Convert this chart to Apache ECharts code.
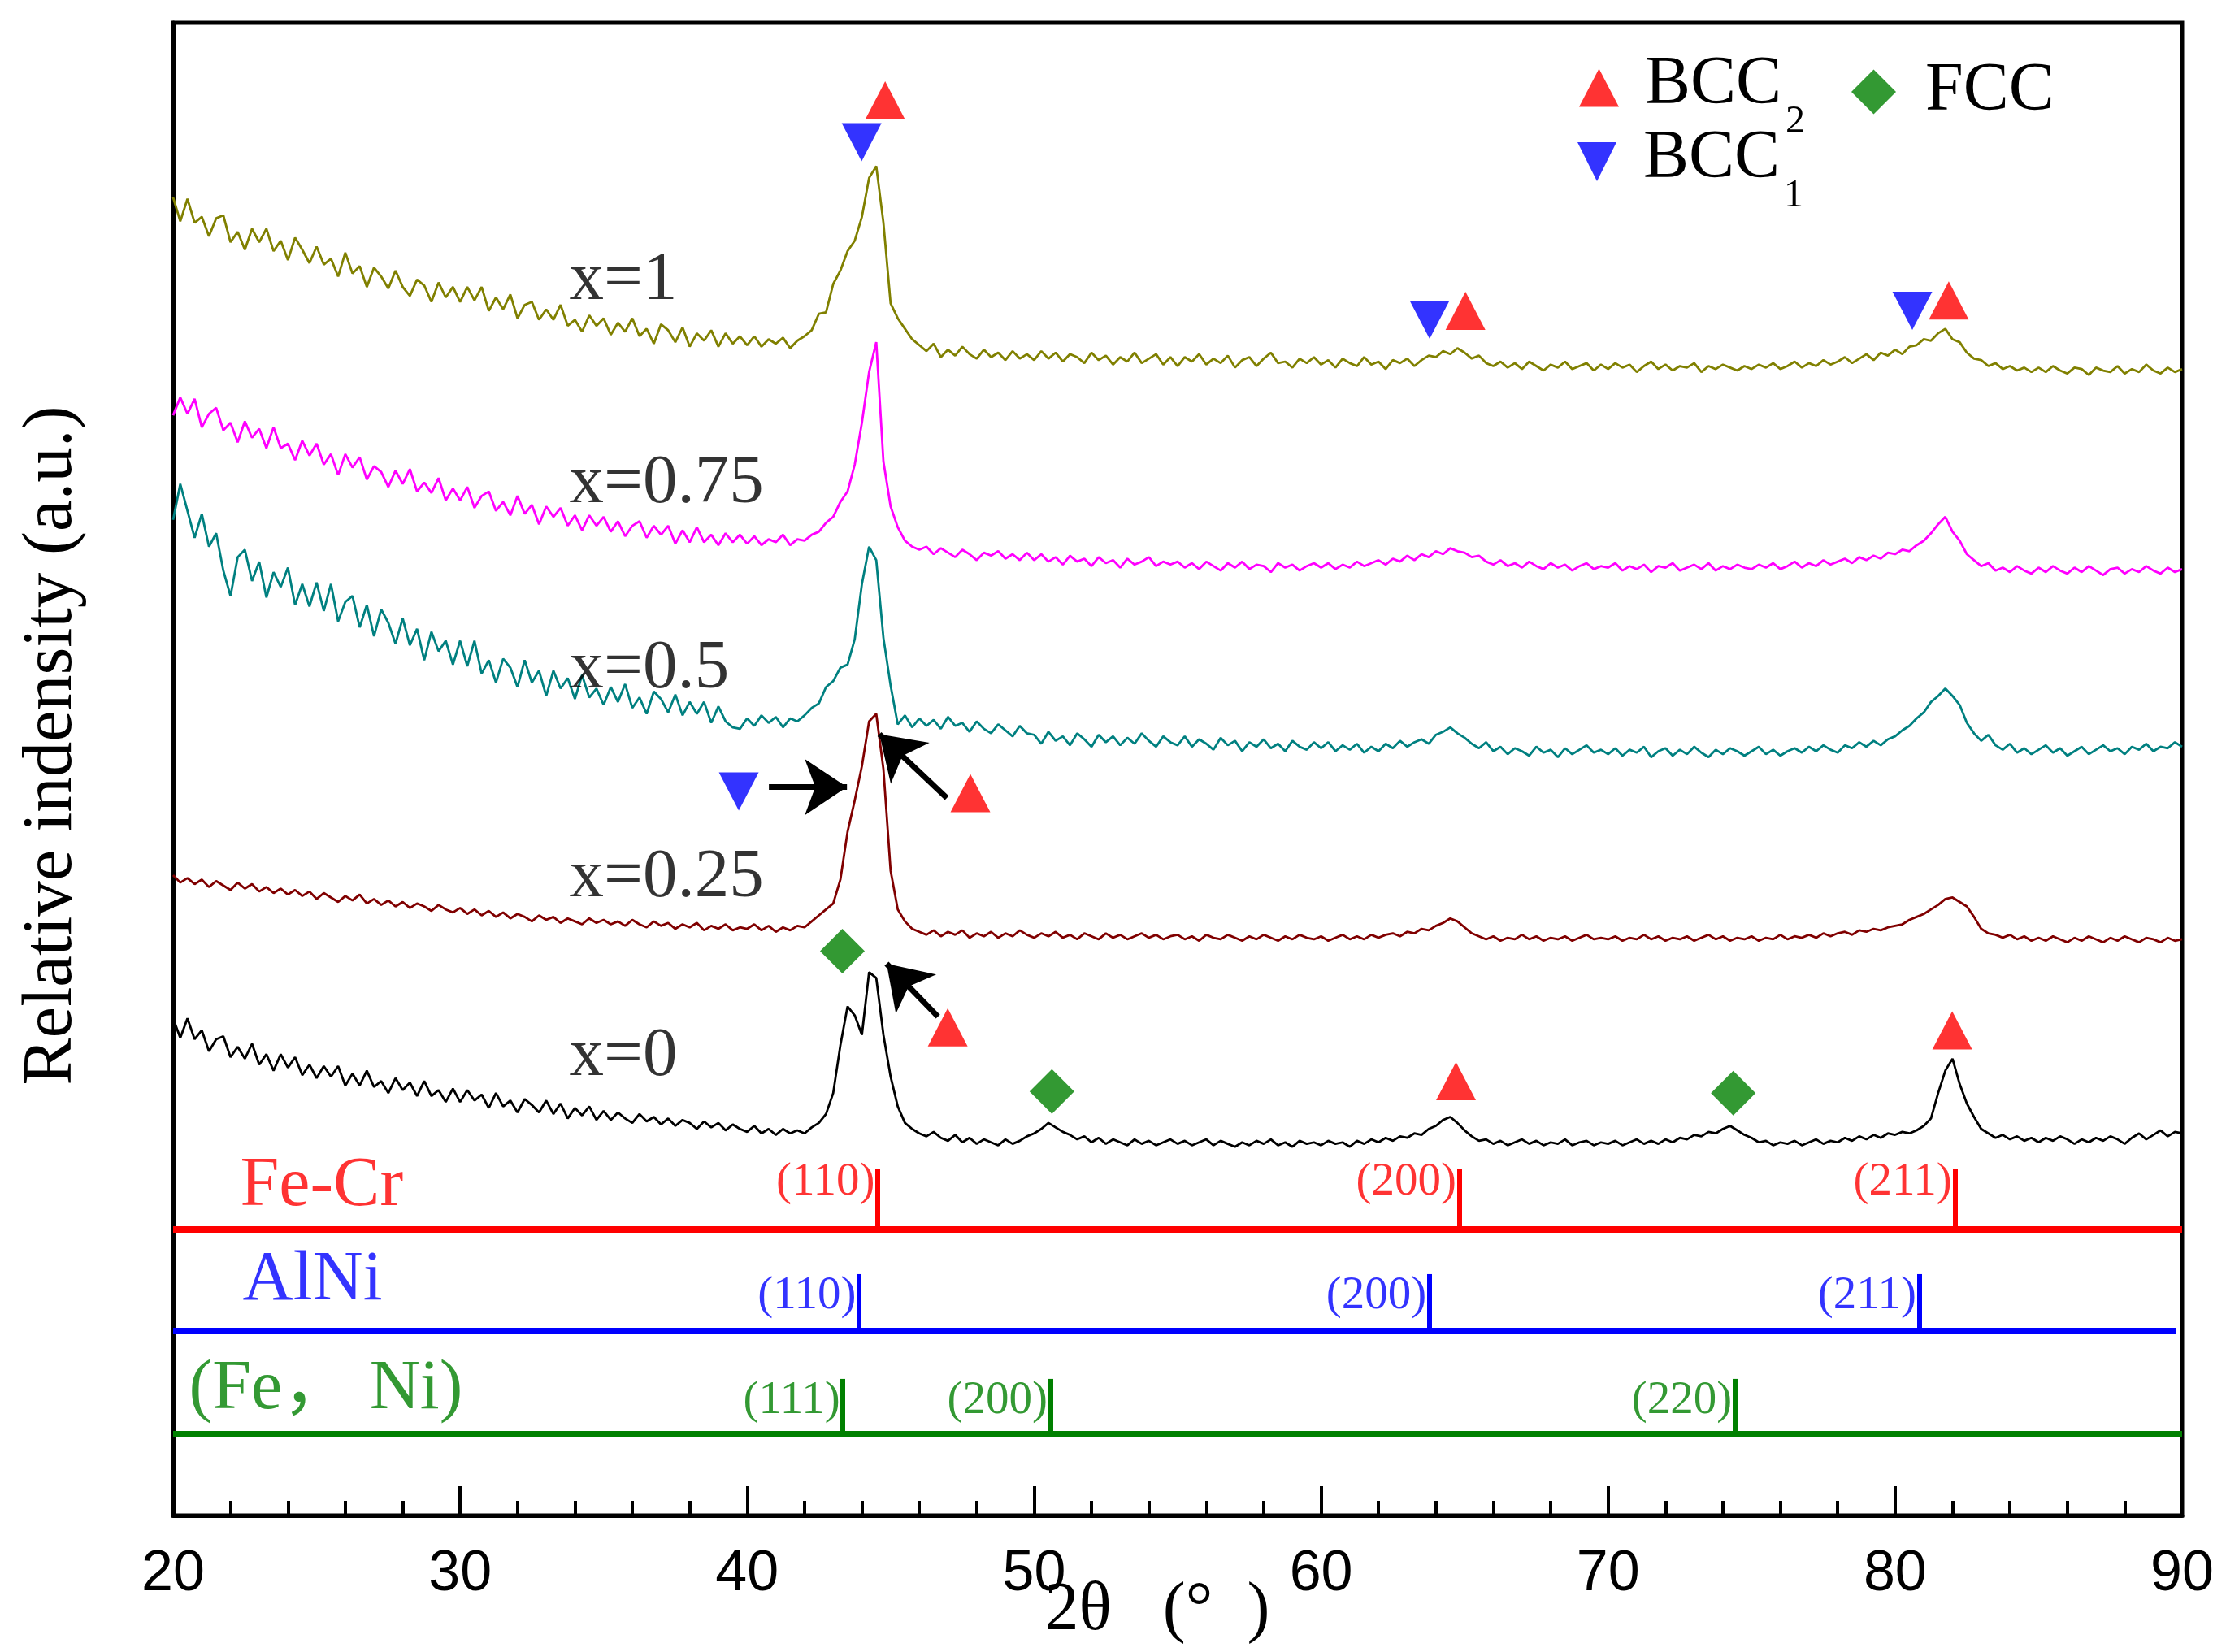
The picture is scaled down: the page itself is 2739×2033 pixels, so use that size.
<!DOCTYPE html>
<html><head><meta charset="utf-8">
<script src="https://cdn.jsdelivr.net/npm/echarts@6/dist/echarts.min.js"></script>
<style>html,body{margin:0;padding:0;background:#fff}#main{width:2739px;height:2033px}</style>
</head><body><div id="main"></div>
<script>
// ---- sampling of 2θ (deg): 20 .. 90, step 0.25 ----
const twoThetaStart = 20;
const twoThetaStep = 0.25;

// ---- curve intensities (a.u., offset-stacked) ----
const intensityX1 = [
88.3,86.7,88.2,86.6,87.0,85.7,86.9,87.1,85.3,86.0,84.8,86.2,85.3,86.2,84.7,85.4,84.1,85.6,84.8,83.9,
85.0,83.8,84.2,83.0,84.6,83.2,83.7,82.3,83.6,83.0,82.2,83.4,82.3,81.7,82.8,82.4,81.3,82.6,81.6,82.3,
81.3,82.3,81.4,82.3,80.7,81.6,80.8,81.8,80.2,81.1,81.3,80.1,80.8,80.1,81.1,79.7,80.1,79.3,80.4,79.7,
80.2,79.1,79.9,79.3,80.2,79.0,79.5,78.5,79.8,79.4,78.6,79.6,78.3,79.2,78.7,79.4,78.3,79.2,78.5,79.0,
78.4,79.0,78.3,78.8,78.5,78.9,78.2,78.7,79.0,79.4,80.5,80.6,82.5,83.4,84.7,85.4,87.0,89.6,90.4,86.6,
81.2,80.2,79.5,78.8,78.4,78.0,78.5,77.6,78.1,77.7,78.3,77.8,77.5,78.1,77.6,77.9,77.4,78.0,77.5,77.8,
77.4,78.0,77.5,77.9,77.3,77.8,77.6,77.2,77.9,77.4,77.7,77.1,77.6,77.3,77.9,77.2,77.5,77.8,77.1,77.6,
77.0,77.6,77.3,77.8,77.1,77.5,77.2,77.7,76.9,77.4,77.6,77.0,77.5,77.9,77.2,77.3,76.9,77.5,77.2,77.6,
77.1,77.4,76.9,77.5,77.2,77.0,77.6,77.1,77.3,76.8,77.4,77.2,77.5,77.0,77.4,77.7,77.6,78.0,77.8,78.2,
77.9,77.5,77.7,77.2,77.0,77.3,76.9,77.2,76.8,77.3,77.0,76.7,77.1,76.9,77.3,76.8,77.0,77.2,76.7,77.1,
76.8,77.2,76.9,77.1,76.6,77.0,77.3,76.8,77.1,76.7,77.0,76.9,77.2,76.6,77.0,76.8,77.1,76.9,76.7,77.0,
76.8,77.1,76.9,77.2,76.8,77.0,77.3,76.9,77.2,77.0,77.4,77.1,77.3,77.6,77.2,77.5,77.8,77.4,77.9,77.7,
78.1,77.8,78.3,78.4,78.8,78.7,79.2,79.5,78.8,78.6,77.9,77.5,77.4,77.0,77.2,76.8,77.0,76.7,76.9,76.6,
76.9,76.6,77.0,76.7,76.5,76.9,76.8,76.4,76.9,76.7,76.6,77.0,76.5,76.8,76.6,77.1,76.7,76.5,76.9,76.6,
76.8];
const intensityX075 = [
73.7,74.9,73.8,74.8,72.9,73.8,74.2,72.7,73.2,71.9,73.3,72.2,72.8,71.5,72.9,71.5,71.8,70.7,72.0,71.0,
71.8,70.4,71.1,69.7,71.1,70.2,70.9,69.4,70.3,69.9,68.9,70.0,69.1,70.1,68.6,69.2,68.5,69.5,68.0,68.8,
68.0,68.9,67.5,68.3,68.6,67.3,67.9,67.0,68.3,67.1,67.7,66.4,67.6,66.9,67.5,66.3,67.0,66.0,67.0,66.3,
66.9,65.9,66.6,65.6,66.3,66.6,65.5,66.3,65.7,66.3,65.1,66.0,65.2,66.2,65.2,65.7,65.0,65.8,65.2,65.7,
65.1,65.6,65.0,65.4,65.2,65.7,65.0,65.4,65.3,65.7,65.9,66.5,66.9,67.9,68.6,70.4,73.2,76.6,78.6,70.6,
67.6,66.2,65.3,64.9,64.7,64.9,64.4,64.8,64.5,64.2,64.7,64.4,64.0,64.5,64.3,64.6,64.1,64.4,64.0,64.5,
64.0,64.4,63.9,64.2,63.7,64.3,63.9,64.1,63.6,64.2,63.8,64.0,63.5,64.1,63.7,63.9,64.2,63.6,63.9,63.7,
63.9,63.5,63.8,63.4,63.9,63.6,63.3,63.8,63.5,63.9,63.4,63.7,63.6,63.2,63.8,63.5,63.7,63.3,63.6,63.8,
63.5,63.8,63.4,63.7,63.5,63.9,63.6,63.8,64.0,63.7,64.1,63.9,64.3,64.0,64.4,64.2,64.6,64.4,64.8,64.6,
64.5,64.2,64.3,63.9,63.7,64.0,63.6,63.8,63.5,63.9,63.6,63.4,63.8,63.5,63.7,63.3,63.6,63.8,63.4,63.6,
63.5,63.8,63.3,63.6,63.4,63.7,63.2,63.6,63.5,63.8,63.3,63.5,63.7,63.4,63.8,63.3,63.6,63.4,63.7,63.5,
63.4,63.7,63.5,63.8,63.4,63.6,63.9,63.5,63.8,63.6,64.0,63.7,63.9,64.1,63.8,64.2,64.0,64.3,64.1,64.5,
64.4,64.7,64.6,65.0,65.3,65.8,66.4,66.9,65.9,65.3,64.4,64.0,63.6,63.8,63.3,63.5,63.2,63.6,63.3,63.1,
63.5,63.2,63.6,63.3,63.1,63.5,63.2,63.6,63.3,63.0,63.4,63.5,63.1,63.4,63.2,63.6,63.3,63.1,63.5,63.2,
63.4];
const intensityX05 = [
66.7,69.1,67.3,65.5,67.1,64.9,65.8,63.3,61.6,64.2,64.7,62.6,63.9,61.5,63.2,62.2,63.5,61.0,62.4,60.9,
62.5,60.6,62.4,59.9,61.2,61.6,59.5,61.0,58.9,60.7,59.8,58.4,60.1,58.3,59.4,57.3,59.2,57.9,58.6,57.0,
58.6,56.9,58.6,56.4,57.3,55.8,57.4,56.8,55.5,57.3,55.8,56.6,54.9,56.6,55.4,56.1,54.7,56.3,54.8,55.4,
54.3,55.5,54.5,55.7,54.1,54.8,53.7,55.2,54.7,53.8,55.0,53.6,54.5,53.7,54.5,53.1,54.2,53.2,52.8,52.7,
53.4,52.9,53.6,53.1,53.5,52.8,53.4,53.2,53.6,54.1,54.4,55.5,55.9,56.8,57.0,58.7,62.4,64.9,64.0,58.8,
55.6,53.0,53.6,52.8,53.4,52.9,53.3,52.7,53.5,52.9,53.1,52.5,53.2,52.7,52.4,53.0,52.6,52.2,52.9,52.4,
52.3,51.7,52.5,51.9,52.2,51.6,52.4,52.0,51.5,52.3,51.8,52.2,51.6,52.1,51.7,52.4,51.9,51.5,52.2,51.8,
51.6,52.2,51.5,52.0,51.7,51.3,52.1,51.6,51.9,51.2,51.8,51.5,52.0,51.4,51.7,51.2,51.9,51.5,51.3,51.8,
51.4,51.8,51.2,51.6,51.3,51.7,51.1,51.5,51.2,51.7,51.4,51.9,51.5,51.8,52.0,51.7,52.3,52.5,52.8,52.4,
52.1,51.7,51.4,51.8,51.2,51.5,51.0,51.4,51.2,50.9,51.5,51.1,51.3,50.8,51.4,51.0,51.3,51.6,51.1,51.3,
51.0,51.4,50.9,51.3,51.1,51.5,50.8,51.2,51.4,50.9,51.3,51.0,51.5,51.1,50.8,51.3,51.0,51.4,51.2,50.9,
51.2,51.5,51.0,51.3,50.9,51.2,51.4,51.1,51.5,51.2,51.6,51.3,51.1,51.6,51.4,51.8,51.5,51.9,51.6,52.0,
52.2,52.6,52.9,53.4,53.8,54.5,54.9,55.4,54.9,54.3,53.1,52.4,51.9,52.3,51.6,51.3,51.7,51.1,51.4,51.0,
51.3,51.6,51.1,51.4,50.9,51.2,51.5,51.0,51.3,51.6,51.2,51.4,51.0,51.5,51.3,51.7,51.2,51.5,51.4,51.8,
51.5];
const intensityX025 = [
42.9,42.4,42.7,42.3,42.6,42.1,42.5,42.2,41.9,42.4,42.0,42.3,41.8,42.1,41.7,42.0,41.6,41.9,41.5,41.8,
41.3,41.7,41.4,41.1,41.5,41.2,41.6,41.0,41.3,40.9,41.2,40.8,41.1,40.7,41.0,40.8,40.5,40.9,40.6,40.4,
40.7,40.3,40.6,40.2,40.5,40.1,40.4,40.0,40.3,40.1,39.8,40.2,39.9,40.1,39.7,40.0,39.8,39.6,40.0,39.7,
39.9,39.6,39.8,39.5,39.9,39.6,39.4,39.8,39.5,39.7,39.3,39.6,39.4,39.7,39.2,39.5,39.3,39.6,39.2,39.4,
39.3,39.6,39.2,39.5,39.1,39.4,39.2,39.5,39.4,39.8,40.2,40.6,41.0,42.6,45.8,47.9,50.2,53.2,53.7,50.0,
43.2,40.6,39.8,39.3,39.1,38.9,39.2,38.8,39.1,38.9,39.2,38.7,39.0,38.8,39.1,38.7,39.0,38.8,39.2,38.9,
38.7,39.0,38.8,39.1,38.7,38.9,38.6,39.0,38.8,38.6,39.0,38.7,38.9,38.6,38.8,39.0,38.7,38.9,38.6,38.8,
38.9,38.6,38.8,38.5,38.9,38.7,38.6,38.9,38.7,38.5,38.8,38.6,38.9,38.7,38.5,38.8,38.6,38.9,38.7,38.6,
38.8,38.5,38.7,38.9,38.6,38.8,38.6,38.9,38.7,38.9,39.0,38.8,39.1,39.0,39.3,39.2,39.5,39.7,40.0,39.8,
39.4,39.0,38.8,38.6,38.8,38.5,38.7,38.6,38.9,38.6,38.8,38.5,38.7,38.6,38.8,38.5,38.7,38.9,38.6,38.7,
38.6,38.8,38.5,38.7,38.6,38.9,38.6,38.8,38.5,38.7,38.6,38.8,38.5,38.7,38.9,38.6,38.8,38.5,38.7,38.6,
38.8,38.5,38.7,38.6,38.9,38.6,38.8,38.7,38.9,38.7,39.0,38.8,39.0,39.1,38.9,39.2,39.1,39.3,39.2,39.4,
39.5,39.6,39.9,40.1,40.3,40.6,40.9,41.3,41.4,41.1,40.8,40.1,39.3,39.0,38.9,38.7,38.9,38.6,38.8,38.5,
38.7,38.5,38.8,38.6,38.4,38.7,38.5,38.8,38.6,38.4,38.7,38.5,38.8,38.6,38.4,38.7,38.6,38.4,38.7,38.5,
38.6];
const intensityX0 = [
33.3,32.0,33.3,31.9,32.5,31.1,31.9,32.1,30.7,31.4,30.6,31.6,30.2,30.9,29.8,30.9,30.0,30.7,29.5,30.2,
29.3,30.1,29.4,30.1,28.8,29.6,28.8,29.8,28.7,29.1,28.3,29.3,28.5,29.0,28.1,29.1,28.1,28.5,27.7,28.6,
27.7,28.5,27.8,28.2,27.3,28.3,27.4,27.8,27.0,27.9,27.5,27.0,27.8,26.9,27.6,26.6,27.3,26.8,27.4,26.5,
27.1,26.5,27.0,26.6,26.3,26.9,26.4,26.7,26.2,26.6,26.1,26.5,26.3,25.9,26.4,26.0,26.3,25.8,26.2,25.9,
25.7,26.1,25.6,25.9,25.5,25.9,25.6,25.8,25.6,26.0,26.3,26.9,28.3,31.5,34.1,33.5,32.2,36.4,36.0,32.2,
29.4,27.4,26.3,25.9,25.6,25.4,25.7,25.3,25.1,25.5,25.0,25.3,24.9,25.2,25.0,24.8,25.2,24.9,25.1,25.4,
25.6,25.9,26.3,26.0,25.7,25.5,25.2,25.4,25.0,25.3,24.9,25.2,25.0,24.8,25.2,24.9,25.1,24.8,25.0,25.2,
24.9,25.1,24.8,25.0,25.2,24.8,25.1,24.9,24.7,25.0,24.8,25.1,24.9,25.2,24.8,25.0,24.7,25.1,24.9,25.0,
24.8,25.1,24.9,25.0,24.7,25.1,24.9,25.2,25.0,25.3,25.1,25.4,25.3,25.6,25.5,25.9,26.1,26.5,26.7,26.3,
25.8,25.4,25.1,25.2,24.9,25.1,24.8,25.0,25.2,24.9,25.1,24.8,25.0,24.9,25.2,24.8,25.0,25.1,24.8,25.0,
24.9,25.1,24.8,25.0,25.2,24.9,25.1,24.9,25.2,25.0,25.3,25.2,25.5,25.4,25.7,25.6,25.9,26.1,25.8,25.5,
25.3,25.0,25.1,24.8,25.0,24.9,25.1,24.8,25.0,25.2,24.9,25.1,25.0,25.3,25.1,25.4,25.2,25.5,25.3,25.6,
25.5,25.7,25.6,25.8,26.1,26.6,28.3,29.8,30.6,28.9,27.6,26.7,25.9,25.6,25.3,25.5,25.2,25.4,25.1,25.3,
25.0,25.3,25.1,25.4,25.2,24.9,25.2,25.0,25.3,25.1,25.4,25.2,24.9,25.3,25.6,25.2,25.5,25.8,25.4,25.7,
25.6];

const sampleNames = ['x=1', 'x=0.75', 'x=0.5', 'x=0.25', 'x=0'];
const sampleColors = ['#808000', '#ff00ff', '#008080', '#800000', '#000000'];
const sampleLabelAt = [[33.79, 82.7], [33.79, 69.1], [33.79, 56.7], [33.79, 42.7], [33.79, 30.7]];

// ---- reference phase patterns ----
const phaseNames = ['Fe-Cr', 'AlNi', '(Fe\uFF0C Ni)'];
const phaseColors = ['#ff0000', '#0000ff', '#008000'];
const phaseBaseline = [19.16, 12.36, 5.44];
const phaseTickTop = [23.24, 16.17, 9.15];
const phaseHklLevel = [22.3, 14.7, 7.7];
const phaseNameAt = [[22.32, 22.05], [22.41, 15.73], [20.54, 8.4]];
const phaseLineEnd = [90, 89.8, 90];
const feCrPeaks = [44.55, 64.81, 82.08];
const alNiPeaks = [43.90, 63.77, 80.84];
const feNiPeaks = [43.34, 50.57, 74.42];
const feCrHkl = ['(110)', '(200)', '(211)'];
const alNiHkl = ['(110)', '(200)', '(211)'];
const feNiHkl = ['(111)', '(200)', '(220)'];

// ---- phase markers ----
const bcc2Marks = [[44.81, 94.8], [65.03, 80.7], [81.87, 81.4], [47.78, 48.4], [46.99, 32.7], [64.70, 29.1], [81.99, 32.5]];
const bcc1Marks = [[43.99, 92.0], [63.78, 80.1], [80.60, 80.7], [39.71, 48.5]];
const fccMarks = [[43.32, 37.8], [50.62, 28.4], [74.36, 28.3]];
const arrowPaths = [
  [[40.76, 48.8], [43.48, 48.8]],
  [[46.96, 48.07], [44.61, 52.34]],
  [[46.65, 33.42], [44.86, 36.96]]
];

const xTicks = { min: 20, max: 90, interval: 10 };

// ------------------------------------------------------------------
const SERIF = "'Times New Roman', 'Liberation Serif', 'Noto Sans CJK SC', serif";
const SANS = "Arial, 'Liberation Sans', sans-serif";
const curves = [intensityX1, intensityX075, intensityX05, intensityX025, intensityX0];
const twoTheta = intensityX1.map((_, i) => twoThetaStart + twoThetaStep * i);

const series = [];
curves.forEach((vals, k) => {
  series.push({
    type: 'line', name: sampleNames[k],
    data: vals.map((v, i) => [twoTheta[i], v]),
    symbol: 'none', showSymbol: false, silent: true, z: 3,
    lineStyle: { color: sampleColors[k], width: 2.8 },
    itemStyle: { color: sampleColors[k] }
  });
});

series.push({
  type: 'scatter', name: 'sampleLabels', silent: true, z: 6,
  symbolSize: 1, itemStyle: { color: 'rgba(0,0,0,0)' },
  data: sampleNames.map((n, i) => ({ name: n, value: sampleLabelAt[i] })),
  label: { show: true, position: 'right', distance: 0, formatter: '{b}',
           fontFamily: SERIF, fontSize: 85, color: '#000' }
});

const peakSets = [feCrPeaks, alNiPeaks, feNiPeaks];
const hklSets = [feCrHkl, alNiHkl, feNiHkl];
phaseNames.forEach((pn, k) => {
  const data = [{ coords: [[20, phaseBaseline[k]], [phaseLineEnd[k], phaseBaseline[k]]], lineStyle: { width: 8 } }];
  peakSets[k].forEach(p => data.push({ coords: [[p, phaseBaseline[k]], [p, phaseTickTop[k]]], lineStyle: { width: 6 } }));
  series.push({
    type: 'lines', name: 'phase' + k, coordinateSystem: 'cartesian2d', silent: true, z: 4,
    symbol: ['none', 'none'],
    lineStyle: { color: phaseColors[k], opacity: 1, curveness: 0 },
    data: data
  });
  series.push({
    type: 'scatter', name: 'hkl' + k, silent: true, z: 6,
    symbolSize: 1, itemStyle: { color: 'rgba(0,0,0,0)' },
    data: peakSets[k].map((p, i) => ({ name: hklSets[k][i], value: [p, phaseHklLevel[k]] })),
    label: { show: true, position: 'left', distance: 3, formatter: '{b}',
             fontFamily: SERIF, fontSize: 57, color: phaseColors[k] }
  });
  series.push({
    type: 'scatter', name: 'phaseName' + k, silent: true, z: 6,
    symbolSize: 1, itemStyle: { color: 'rgba(0,0,0,0)' },
    data: [{ name: pn, value: phaseNameAt[k] }],
    label: { show: true, position: 'right', distance: 0, formatter: '{b}',
             fontFamily: SERIF, fontSize: 86, color: phaseColors[k] }
  });
});

const downTri = 'path://M0,0L10,0L5,10Z';
series.push({ type: 'scatter', name: 'BCC2', symbol: 'triangle', symbolSize: [49, 47], z: 7,
  itemStyle: { color: '#ff0000' }, data: bcc2Marks });
series.push({ type: 'scatter', name: 'BCC1', symbol: downTri, symbolSize: [49, 47], z: 7,
  itemStyle: { color: '#0000ff' }, data: bcc1Marks });
series.push({ type: 'scatter', name: 'FCC', symbol: 'diamond', symbolSize: [55, 55], z: 7,
  itemStyle: { color: '#008000' }, data: fccMarks });
series.push({
  type: 'lines', name: 'arrows', coordinateSystem: 'cartesian2d', silent: true, z: 7,
  symbol: ['none', 'arrow'], symbolSize: [30, 52],
  lineStyle: { color: '#000', width: 7, opacity: 1, curveness: 0 },
  data: arrowPaths.map(c => ({ coords: c }))
});

const legendRich = {
  m: { fontFamily: SERIF, fontSize: 84, color: '#000', padding: [21, 0, 27, 27], verticalAlign: 'top' },
  s: { fontFamily: SERIF, fontSize: 48, color: '#000', padding: [0, 0, 0, 5], verticalAlign: 'bottom' },
  f: { fontFamily: SERIF, fontSize: 84, color: '#000', padding: [0, 0, 0, 31] }
};
const legendFmt = function (name) {
  if (name === 'BCC2') return '{m|BCC}{s|2}';
  if (name === 'BCC1') return '{m|BCC}{s|1}';
  return '{f|' + name + '}';
};
function legendAt(name, left, top, w, h) {
  return { data: [name], left: left, top: top, padding: 0, itemGap: 0, orient: 'horizontal',
           itemWidth: w, itemHeight: h, selectedMode: false, formatter: legendFmt,
           textStyle: { rich: legendRich } };
}

const option = {
  backgroundColor: '#ffffff',
  animation: false,
  legend: [
    legendAt('BCC2', 1943, 63, 49, 47),
    legendAt('FCC', 2278, 71, 55, 55),
    legendAt('BCC1', 1941, 154, 50, 48)
  ],
  grid: { left: 213, right: 54, top: 28, bottom: 168, show: true, borderColor: '#000', borderWidth: 5,
          containLabel: false, outerBoundsMode: 'none' },
  xAxis: {
    type: 'value', min: xTicks.min, max: xTicks.max, interval: xTicks.interval,
    name: '2\u03B8   (\u00B0  )', nameLocation: 'middle', nameGap: 76, nameMoveOverlap: false,
    nameTextStyle: { fontFamily: SERIF, fontSize: 84, color: '#000', padding: [0, 50, 0, 0] },
    axisLine: { show: true, onZero: false, lineStyle: { color: '#000', width: 5 } },
    axisTick: { show: true, inside: true, length: 36, lineStyle: { color: '#000', width: 4 } },
    minorTick: { show: true, splitNumber: 5, length: 18, lineStyle: { color: '#000', width: 4 } },
    axisLabel: { fontFamily: SANS, fontSize: 70, color: '#000', margin: 38 },
    splitLine: { show: false }, minorSplitLine: { show: false }
  },
  yAxis: {
    type: 'value', min: 0, max: 100,
    name: 'Relative indensity (a.u.)', nameLocation: 'middle', nameGap: 105, nameMoveOverlap: false,
    nameTextStyle: { fontFamily: SERIF, fontSize: 87, color: '#000', padding: [0, 0, 0, 58] },
    axisLine: { show: true, lineStyle: { color: '#000', width: 5 } },
    axisTick: { show: false }, axisLabel: { show: false }, splitLine: { show: false }
  },
  series: series
};

const chart = echarts.init(document.getElementById('main'), null, { renderer: 'canvas' });
chart.setOption(option);
</script></body></html>
